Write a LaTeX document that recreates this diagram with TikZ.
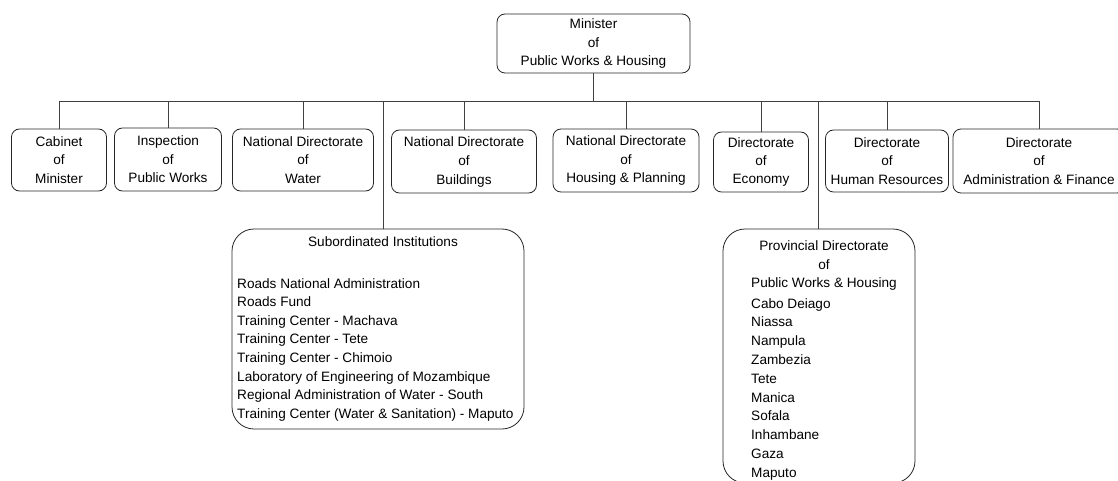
\documentclass[tikz,border=0pt]{standalone}
\usepackage{fontspec}
\setmainfont{Liberation Sans}
\begin{document}
\begin{tikzpicture}[x=1pt,y=-1pt,
  box/.style={draw=black!85, line width=0.8pt, rounded corners=8pt, align=center, inner sep=0pt, font=\fontsize{13.6}{18.4}\selectfont},
  bigbox/.style={draw=black!85, line width=0.8pt, rounded corners=22pt, inner sep=0pt},
  txt/.style={inner sep=0pt, font=\fontsize{13.6}{18.4}\selectfont},
  conn/.style={draw=black!75, line width=0.8pt}]
\useasboundingbox (0,0) rectangle (1118,481);
\begin{scope}
\clip (0,0) rectangle (1118,481);
% top
\node[box, minimum width=193pt, minimum height=59pt] (min) at (593.5,43.5) {Minister\\of\\Public Works \& Housing};
% row
\node[box, minimum width=95pt, minimum height=62pt] (cab) at (59,160) {Cabinet\\of\\Minister};
\node[box, minimum width=107pt, minimum height=63pt] (insp) at (168,159.5) {Inspection\\of\\Public Works};
\node[box, minimum width=141pt, minimum height=62pt] (wat) at (303,160) {National Directorate\\of\\Water};
\node[box, minimum width=145pt, minimum height=63pt] (bld) at (464,161.5) {\raisebox{-4pt}{\begin{tabular}{@{}c@{}}National Directorate\\[0.6pt]of\\[0.6pt]Buildings\end{tabular}}};
\node[box, minimum width=146pt, minimum height=63pt] (hou) at (626,160.5) {National Directorate\\of\\Housing \& Planning};
\node[box, minimum width=95pt, minimum height=60pt] (eco) at (761,162) {Directorate\\of\\Economy};
\node[box, minimum width=123pt, minimum height=62pt] (hr) at (887,161) {Directorate\\of\\Human Resources};
\node[box, minimum width=172pt, minimum height=64pt] (adm) at (1039,161) {Directorate\\of\\Administration \& Finance};
% big boxes
\node[bigbox, minimum width=292pt, minimum height=200pt] (sub) at (378,329) {};
\node[bigbox, minimum width=192pt, minimum height=254pt] (prov) at (819,356) {};
% bus
\coordinate (busL) at (59,101);
\coordinate (busR) at (1039,101);
\draw[conn] (min.south) -- (min.south |- busL);
\draw[conn] (busL) -- (busR);
\foreach \n in {cab,insp,wat,bld,hou,eco,hr,adm}
  \draw[conn] (\n.north) -- (\n.north |- busL);
\draw[conn] ([xshift=5pt]sub.north) -- ([xshift=5pt]sub.north |- busL);
\draw[conn] ([xshift=-1pt]prov.north) -- ([xshift=-1pt]prov.north |- busL);
% subordinated texts
\node[txt] (subt) at (383,242) {Subordinated Institutions};
\foreach \t [count=\i from 0] in {Roads National Administration,Roads Fund,Training Center - Machava,Training Center - Tete,Training Center - Chimoio,Laboratory of Engineering of Mozambique,Regional Administration of Water - South,Training Center (Water \& Sanitation) - Maputo}
  \node[txt, anchor=base west] (subl\i) at (237,{288+18.6*\i}) {\t};
% provincial texts
\node[txt, anchor=base] (pt1) at (824,250) {Provincial Directorate};
\node[txt, anchor=base] (pt2) at (824,269) {of};
\node[txt, anchor=base] (pt3) at (824,287) {Public Works \& Housing};
\foreach \t [count=\i from 0] in {Cabo Deiago,Niassa,Nampula,Zambezia,Tete,Manica,Sofala,Inhambane,Gaza,Maputo}
  \node[txt, anchor=base west] (pl\i) at (751,{308+18.8*\i}) {\t};
\end{scope}
\end{tikzpicture}
\end{document}
